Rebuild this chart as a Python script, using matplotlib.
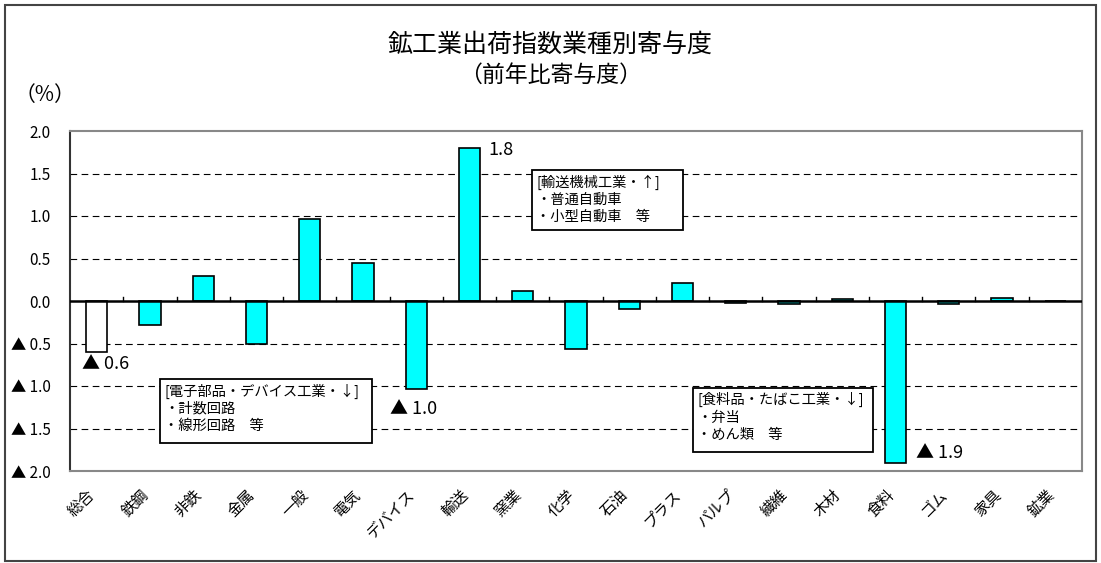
import matplotlib
matplotlib.use("Agg")
import matplotlib.pyplot as plt
from matplotlib.patches import Rectangle
from matplotlib.transforms import ScaledTranslation

plt.rcParams['font.family'] = ['Noto Sans CJK JP', 'DejaVu Sans']

# データ
categories = ["総合", "鉄鋼", "非鉄", "金属", "一般", "電気", "デバイス", "輸送", "窯業",
              "化学", "石油", "プラス", "パルプ", "繊維", "木材", "食料", "ゴム", "家具", "鉱業"]
values = [-0.60, -0.28, 0.29, -0.51, 0.96, 0.45, -1.04, 1.80, 0.12,
          -0.57, -0.09, 0.21, -0.02, -0.03, 0.02, -1.90, -0.03, 0.03, 0.0]
ytick_values = [2.0, 1.5, 1.0, 0.5, 0.0, -0.5, -1.0, -1.5, -2.0]
ytick_labels = ["2.0", "1.5", "1.0", "0.5", "0.0", "▲ 0.5", "▲ 1.0", "▲ 1.5", "▲ 2.0"]

# 値の注記 (カテゴリ番号, 文字, x, y)
value_notes = [(0, "▲ 0.6", -0.28, -0.74), (6, "▲ 1.0", 5.5, -1.27),
               (7, "1.8", 7.35, 1.78), (15, "▲ 1.9", 15.38, -1.79)]

# 説明ボックス (左, 下, 右, 上)
box_notes = [
    ("[電子部品・デバイス工業・↓]\n・計数回路\n・線形回路　等", (1.19, -1.67, 5.17, -0.92)),
    ("[輸送機械工業・↑]\n・普通自動車\n・小型自動車　等", (8.17, 0.835, 11.01, 1.54)),
    ("[食料品・たばこ工業・↓]\n・弁当\n・めん類　等", (11.20, -1.776, 14.58, -1.024)),
]

fig = plt.figure(figsize=(11.01, 5.63), dpi=100)
ax = fig.add_axes([70 / 1101, 1 - 471 / 563, 1012 / 1101, 340 / 563])

# 外枠
fig.patches.append(Rectangle((5 / 1101, 2 / 563), 1091 / 1101, 556 / 563, transform=fig.transFigure,
                             fill=False, edgecolor="#444444", linewidth=1.5))

x = list(range(len(categories)))
colors = ["white"] + ["#00FFFF"] * (len(categories) - 1)
ax.bar(x, values, width=0.4, color=colors, edgecolor="black", linewidth=1.2, zorder=3)

ax.set_xlim(-0.5, len(categories) - 0.5)
ax.set_ylim(-2.0, 2.0)

# 目盛線
for v in [1.5, 1.0, 0.5, -0.5, -1.0, -1.5]:
    ax.axhline(v, color="black", linestyle=(0, (6, 4)), linewidth=0.8, zorder=1)
ax.axhline(0, color="black", linewidth=1.8, zorder=4)
for b in range(1, len(categories)):
    ax.plot([b - 0.5, b - 0.5], [0, 0.05], color="black", linewidth=1, zorder=4)

ax.set_yticks(ytick_values)
ax.set_yticklabels(ytick_labels, fontsize=11)
ax.tick_params(axis="y", length=0, pad=14)
ax.set_xticks(x)
ax.set_xticklabels(categories, rotation=45, ha="right", rotation_mode="anchor", fontsize=11)
ax.tick_params(axis="x", length=0, pad=11)
shift = ScaledTranslation(-10 / 100, 0, fig.dpi_scale_trans)
for lab in ax.get_xticklabels():
    lab.set_transform(lab.get_transform() + shift)

for side in ["top", "right", "bottom"]:
    ax.spines[side].set_color("#888888")
    ax.spines[side].set_linewidth(1.5)
ax.spines["left"].set_color("#333333")
ax.spines["left"].set_linewidth(1.5)

# 値の注記
for i, label, tx, ty in value_notes:
    ax.text(tx, ty, label, ha="left", va="center", fontsize=13, zorder=5)

# 説明ボックス
for txt, (l, b, r, t) in box_notes:
    ax.add_patch(Rectangle((l, b), r - l, t - b, facecolor="white", edgecolor="black",
                           linewidth=1.3, zorder=6))
    ax.text(l + 0.08, t - 0.05, txt, ha="left", va="top", fontsize=10.3, linespacing=1.3, zorder=7)

fig.text(0.5, 1 - 45 / 563, "鉱工業出荷指数業種別寄与度", ha="center", va="center", fontsize=18)
fig.text(0.5, 1 - 75 / 563, "（前年比寄与度）", ha="center", va="center", fontsize=16.5)
fig.text(45 / 1101, 1 - 95 / 563, "（%）", ha="center", va="center", fontsize=15)

fig.savefig("out.png", dpi=100)
